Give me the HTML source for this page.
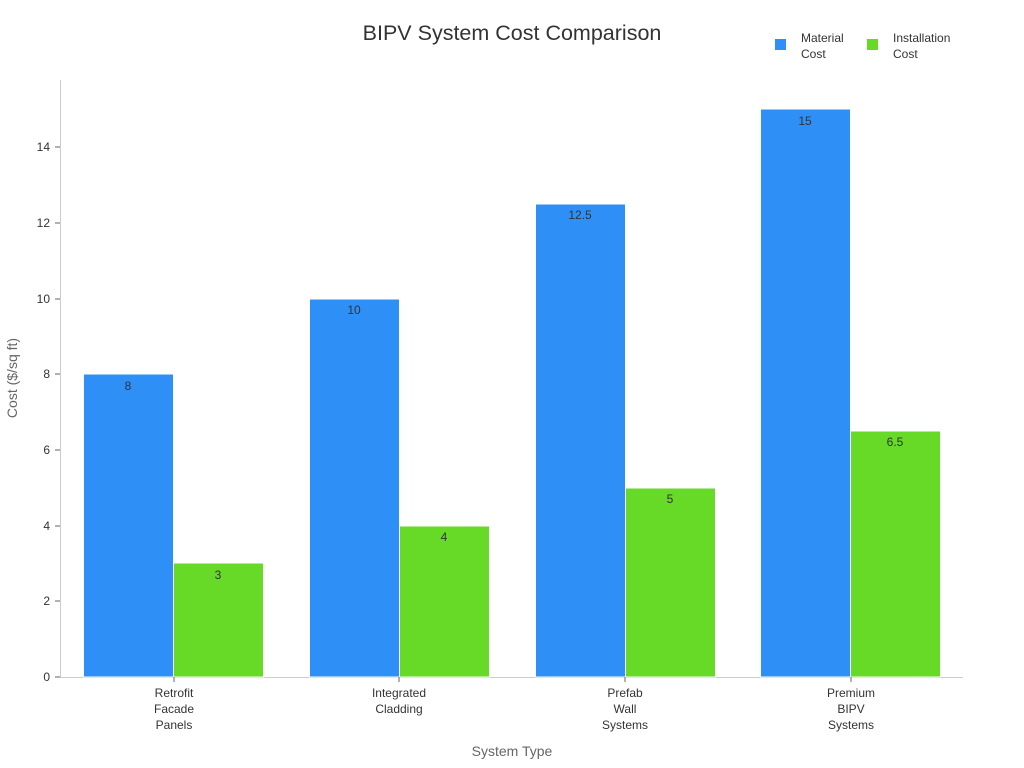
<!DOCTYPE html>
<html><head><meta charset="utf-8"><style>body{margin:0;background:#fff}svg{display:block;font-family:"Liberation Sans","DejaVu Sans",sans-serif}</style></head><body>
<svg width="1024" height="768" viewBox="0 0 1024 768">
<text x="512" y="40" text-anchor="middle" font-size="21.5" fill="#333">BIPV System Cost Comparison</text>
<rect x="775" y="39" width="11" height="11" fill="#2E90F6"/>
<text x="801" y="42" font-size="12" fill="#333">Material</text>
<text x="801" y="58" font-size="12" fill="#333">Cost</text>
<rect x="867" y="39" width="11" height="11" fill="#66DA26"/>
<text x="893" y="42" font-size="12" fill="#333">Installation</text>
<text x="893" y="58" font-size="12" fill="#333">Cost</text>
<line x1="60.5" y1="80" x2="60.5" y2="677" stroke="#ccc"/>
<line x1="60" y1="677.5" x2="963" y2="677.5" stroke="#ccc"/>
<g font-size="12" fill="#333" text-anchor="end">
<text x="50" y="681">0</text><text x="50" y="605">2</text><text x="50" y="530">4</text><text x="50" y="454">6</text><text x="50" y="378">8</text><text x="50" y="303">10</text><text x="50" y="227">12</text><text x="50" y="151">14</text>
</g>
<g stroke="#666"><line x1="55" x2="60" y1="677" y2="677"/><line x1="55" x2="60" y1="601" y2="601"/><line x1="55" x2="60" y1="526" y2="526"/><line x1="55" x2="60" y1="450" y2="450"/><line x1="55" x2="60" y1="374" y2="374"/><line x1="55" x2="60" y1="299" y2="299"/><line x1="55" x2="60" y1="223" y2="223"/><line x1="55" x2="60" y1="147" y2="147"/></g>
<text transform="translate(17,378) rotate(-90)" text-anchor="middle" font-size="14" fill="#666">Cost ($/sq ft)</text>
<g stroke="#fff" stroke-width="1">
<rect x="83.5" y="374" width="90" height="303" fill="#2E90F6"/>
<rect x="173.5" y="563" width="90" height="114" fill="#66DA26"/>
<rect x="309.5" y="299" width="90" height="378" fill="#2E90F6"/>
<rect x="399.5" y="526" width="90" height="151" fill="#66DA26"/>
<rect x="535.5" y="204" width="90" height="473" fill="#2E90F6"/>
<rect x="625.5" y="488" width="90" height="189" fill="#66DA26"/>
<rect x="760.5" y="109" width="90" height="568" fill="#2E90F6"/>
<rect x="850.5" y="431" width="90" height="246" fill="#66DA26"/>
</g>
<g font-size="12" fill="#333" text-anchor="middle">
<text x="128" y="390">8</text><text x="218" y="579">3</text>
<text x="354" y="314">10</text><text x="444" y="541">4</text>
<text x="580" y="219">12.5</text><text x="670" y="503">5</text>
<text x="805" y="125">15</text><text x="895" y="446">6.5</text>
<text x="174" y="697">Retrofit</text><text x="174" y="713">Facade</text><text x="174" y="729">Panels</text>
<text x="399" y="697">Integrated</text><text x="399" y="713">Cladding</text>
<text x="625" y="697">Prefab</text><text x="625" y="713">Wall</text><text x="625" y="729">Systems</text>
<text x="851" y="697">Premium</text><text x="851" y="713">BIPV</text><text x="851" y="729">Systems</text>
</g>
<g stroke="#666"><line x1="174" x2="174" y1="677" y2="682"/><line x1="399" x2="399" y1="677" y2="682"/><line x1="625" x2="625" y1="677" y2="682"/><line x1="851" x2="851" y1="677" y2="682"/></g>
<text x="512" y="756" text-anchor="middle" font-size="14" fill="#666">System Type</text>
</svg>
</body></html>
